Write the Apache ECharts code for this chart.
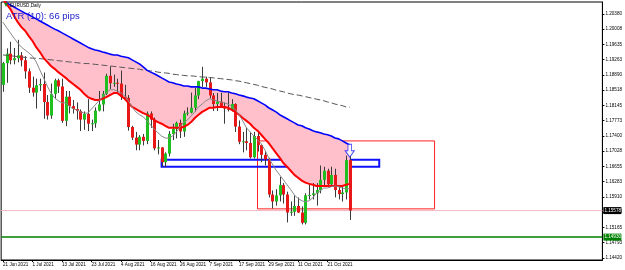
<!DOCTYPE html>
<html><head><meta charset="utf-8">
<script src="https://cdn.jsdelivr.net/npm/echarts@6/dist/echarts.min.js"></script>
<style>html,body{margin:0;padding:0;background:#fff}#c{width:625px;height:270px}</style>
</head><body><div id="c"></div>
<script>
const dates = [
'2021-06-21','2021-06-22','2021-06-23','2021-06-24','2021-06-25','2021-06-28','2021-06-29','2021-06-30',
'2021-07-01','2021-07-02','2021-07-05','2021-07-06','2021-07-07','2021-07-08','2021-07-09','2021-07-12','2021-07-13','2021-07-14','2021-07-15','2021-07-16','2021-07-19','2021-07-20','2021-07-21','2021-07-22','2021-07-23','2021-07-26','2021-07-27','2021-07-28','2021-07-29','2021-07-30',
'2021-08-02','2021-08-03','2021-08-04','2021-08-05','2021-08-06','2021-08-09','2021-08-10','2021-08-11','2021-08-12','2021-08-13','2021-08-16','2021-08-17','2021-08-18','2021-08-19','2021-08-20','2021-08-23','2021-08-24','2021-08-25','2021-08-26','2021-08-27','2021-08-30','2021-08-31',
'2021-09-01','2021-09-02','2021-09-03','2021-09-06','2021-09-07','2021-09-08','2021-09-09','2021-09-10','2021-09-13','2021-09-14','2021-09-15','2021-09-16','2021-09-17','2021-09-20','2021-09-21','2021-09-22','2021-09-23','2021-09-24','2021-09-27','2021-09-28','2021-09-29','2021-09-30',
'2021-10-01','2021-10-04','2021-10-05','2021-10-06','2021-10-07','2021-10-08','2021-10-11','2021-10-12','2021-10-13','2021-10-14','2021-10-15','2021-10-18','2021-10-19','2021-10-20','2021-10-21','2021-10-22','2021-10-25','2021-10-26','2021-10-27','2021-10-28','2021-10-29'];
const futureSlots = 68;

const open = [1.1865,1.1918,1.1941,1.1925,1.1930,1.1937,1.1925,1.1898,
1.1858,1.1846,1.1864,1.1867,1.1823,1.1790,1.1843,1.1876,1.1861,1.1777,1.1836,1.1813,1.1806,1.1801,1.1780,1.1794,1.1770,1.1771,1.1802,1.1817,1.1843,1.1887,
1.1869,1.1870,1.1868,1.1836,1.1833,1.1762,1.1736,1.1719,1.1738,1.1728,1.1795,1.1780,1.1710,1.1712,1.1676,1.1697,1.1745,1.1757,1.1772,1.1751,1.1795,1.1797,
1.1809,1.1839,1.1874,1.1880,1.1871,1.1839,1.1818,1.1824,1.1813,1.1807,1.1804,1.1818,1.1763,1.1726,1.1727,1.1723,1.1688,1.1740,1.1718,1.1694,1.1683,1.1597,
1.1580,1.1595,1.1620,1.1597,1.1553,1.1555,1.1569,1.1553,1.1528,1.1595,1.1596,1.1600,1.1608,1.1633,1.1655,1.1622,1.1645,1.1608,1.1598,1.1602,1.1681];
const high = [1.1921,1.1954,1.1970,1.1955,1.1975,1.1945,1.1935,1.1905,
1.1885,1.1880,1.1880,1.1895,1.1840,1.1868,1.1880,1.1880,1.1880,1.1850,1.1850,1.1828,1.1822,1.1805,1.1800,1.1830,1.1780,1.1810,1.1850,1.1850,1.1892,1.1910,
1.1890,1.1880,1.1900,1.1865,1.1840,1.1765,1.1750,1.1742,1.1745,1.1800,1.1800,1.1785,1.1730,1.1713,1.1700,1.1752,1.1770,1.1775,1.1780,1.1802,1.1810,1.1846,
1.1857,1.1875,1.1909,1.1885,1.1883,1.1845,1.1845,1.1846,1.1822,1.1846,1.1830,1.1820,1.1778,1.1750,1.1760,1.1750,1.1750,1.1750,1.1720,1.1702,1.1687,1.1607,
1.1610,1.1640,1.1625,1.1604,1.1580,1.1595,1.1590,1.1568,1.1600,1.1625,1.1625,1.1625,1.1668,1.1665,1.1660,1.1665,1.1660,1.1620,1.1620,1.1692,1.1692];
const low = [1.1848,1.1870,1.1915,1.1915,1.1920,1.1910,1.1880,1.1845,
1.1836,1.1807,1.1850,1.1782,1.1780,1.1782,1.1830,1.1845,1.1772,1.1764,1.1795,1.1795,1.1780,1.1752,1.1755,1.1752,1.1752,1.1760,1.1800,1.1800,1.1840,1.1855,
1.1860,1.1845,1.1828,1.1830,1.1753,1.1730,1.1705,1.1705,1.1717,1.1720,1.1760,1.1705,1.1695,1.1665,1.1664,1.1690,1.1730,1.1734,1.1735,1.1738,1.1790,1.1795,
1.1800,1.1830,1.1860,1.1860,1.1832,1.1801,1.1801,1.1810,1.1770,1.1800,1.1800,1.1750,1.1720,1.1700,1.1705,1.1685,1.1685,1.1702,1.1676,1.1668,1.1590,1.1563,
1.1570,1.1580,1.1575,1.1529,1.1545,1.1545,1.1552,1.1524,1.1524,1.1585,1.1585,1.1570,1.1600,1.1620,1.1617,1.1620,1.1590,1.1585,1.1580,1.1585,1.1535];
const close = [1.1918,1.1941,1.1925,1.1930,1.1937,1.1925,1.1898,1.1858,
1.1846,1.1864,1.1867,1.1823,1.1790,1.1843,1.1876,1.1861,1.1777,1.1836,1.1813,1.1806,1.1801,1.1780,1.1794,1.1770,1.1771,1.1802,1.1817,1.1843,1.1887,1.1869,
1.1870,1.1868,1.1836,1.1833,1.1762,1.1736,1.1719,1.1738,1.1728,1.1795,1.1780,1.1710,1.1712,1.1676,1.1697,1.1745,1.1757,1.1772,1.1751,1.1795,1.1797,1.1809,
1.1839,1.1874,1.1880,1.1871,1.1839,1.1818,1.1824,1.1813,1.1807,1.1804,1.1818,1.1763,1.1726,1.1727,1.1723,1.1688,1.1740,1.1718,1.1694,1.1683,1.1597,1.1580,
1.1595,1.1620,1.1597,1.1553,1.1555,1.1569,1.1553,1.1528,1.1595,1.1596,1.1600,1.1608,1.1633,1.1655,1.1622,1.1645,1.1608,1.1598,1.1602,1.1681,1.1558];

const maFast = [1.2018,1.2004,1.1992,1.1979,1.1967,1.1957,1.1950,1.1943,1.1935,1.1921,1.1901,1.1882,1.1862,1.1845,1.1833,1.1826,1.1821,1.1821,1.1813,1.1806,
1.1804,1.1799,1.1796,1.1796,1.1806,1.1816,1.1826,1.1835,1.1845,1.1853,1.1853,1.1850,1.1845,1.1838,1.1826,1.1811,1.1799,1.1792,1.1787,1.1777,
1.1767,1.1757,1.1748,1.1740,1.1735,1.1735,1.1740,1.1750,1.1762,1.1774,1.1779,1.1789,1.1799,1.1811,1.1818,1.1826,1.1831,1.1828,1.1826,1.1823,
1.1821,1.1818,1.1813,1.1804,1.1792,1.1777,1.1760,1.1750,1.1740,1.1731,1.1721,1.1706,1.1687,1.1672,1.1657,1.1645,1.1633,1.1621,1.1609,1.1596,
1.1587,1.1582,1.1579,1.1582,1.1589,1.1601,1.1606,1.1613,1.1613,1.1616,1.1618,1.1616,1.1613,1.1611,1.1611];
const maRed = [1.2075,1.2062,1.2050,1.2033,1.2018,1.2006,1.1997,1.1984,1.1972,1.1957,1.1945,1.1931,1.1921,1.1911,1.1904,1.1896,1.1889,1.1882,1.1874,1.1867,
1.1860,1.1853,1.1843,1.1835,1.1831,1.1828,1.1828,1.1831,1.1835,1.1840,1.1845,1.1845,1.1838,1.1831,1.1821,1.1811,1.1806,1.1801,1.1796,1.1792,
1.1787,1.1779,1.1774,1.1770,1.1765,1.1760,1.1760,1.1760,1.1760,1.1762,1.1767,1.1774,1.1784,1.1792,1.1799,1.1804,1.1809,1.1809,1.1811,1.1811,
1.1811,1.1809,1.1804,1.1799,1.1792,1.1784,1.1777,1.1770,1.1760,1.1753,1.1743,1.1733,1.1723,1.1711,1.1699,1.1687,1.1674,1.1665,1.1655,1.1645,
1.1638,1.1631,1.1626,1.1623,1.1621,1.1618,1.1618,1.1618,1.1618,1.1618,1.1618,1.1618,1.1618,1.1621,1.1623];
const maBlue = [1.2079,1.2065,1.2060,1.2055,1.2050,1.2045,1.2040,1.2036,1.2031,1.2026,1.2021,1.2016,1.2011,1.2006,1.2001,1.1997,1.1992,1.1987,1.1982,1.1977,
1.1972,1.1967,1.1962,1.1957,1.1953,1.1950,1.1948,1.1945,1.1943,1.1940,1.1938,1.1938,1.1935,1.1933,1.1931,1.1926,1.1921,1.1916,1.1909,1.1901,
1.1896,1.1892,1.1887,1.1882,1.1877,1.1872,1.1870,1.1867,1.1865,1.1862,1.1862,1.1860,1.1860,1.1860,1.1857,1.1857,1.1855,1.1853,1.1853,1.1850,
1.1848,1.1848,1.1845,1.1843,1.1840,1.1838,1.1835,1.1833,1.1831,1.1826,1.1821,1.1816,1.1809,1.1804,1.1799,1.1792,1.1787,1.1782,1.1777,1.1772,
1.1767,1.1765,1.1760,1.1757,1.1753,1.1750,1.1748,1.1745,1.1743,1.1740,1.1735,1.1733,1.1728,1.1723,1.1718];
const maSlow = [1.1938,1.1937,1.1936,1.1935,1.1934,1.1933,1.1932,1.1931,1.1930,1.1930,1.1929,1.1928,1.1927,1.1926,
1.1925,1.1924,1.1923,1.1922,1.1921,1.1920,1.1919,1.1918,1.1917,1.1917,1.1916,1.1915,1.1914,
1.1913,1.1912,1.1911,1.1910,1.1909,1.1908,1.1907,1.1906,1.1905,1.1904,1.1903,1.1901,
1.1900,1.1899,1.1898,1.1896,1.1895,1.1894,1.1893,1.1891,1.1890,1.1889,
1.1888,1.1887,1.1887,1.1886,1.1885,1.1884,1.1884,1.1883,1.1882,
1.1881,1.1880,1.1879,1.1878,1.1877,1.1875,1.1874,1.1872,1.1870,
1.1868,1.1866,1.1864,1.1861,1.1859,1.1857,1.1855,1.1852,1.1850,1.1848,1.1845,
1.1843,1.1841,1.1840,1.1838,1.1836,1.1834,1.1832,1.1830,1.1828,
1.1826,1.1823,1.1821,1.1818,1.1816,1.1814,1.1811,1.1810];

const xTickLabels = ['21 Jun 2021','1 Jul 2021','13 Jul 2021','23 Jul 2021','4 Aug 2021','16 Aug 2021','26 Aug 2021','7 Sep 2021','17 Sep 2021','29 Sep 2021','11 Oct 2021','21 Oct 2021'];
const xTickStep = 8;
const yTickLabels = [1.20380,1.20008,1.19635,1.19263,1.18890,1.18518,1.18145,1.17773,1.17400,1.17028,1.16655,1.16283,1.15910,1.15538,1.15165,1.14793,1.14420];
const yMin = 1.14371, yMax = 1.20673;
const bidPrice = 1.15578;
const greenLevel = 1.14930;
const redZone = {x0: 69, x1: 117, top: 1.1728, bottom: 1.1562};
const blueZone = {x0: 43, x1: 102, top: 1.1682, bottom: 1.1665};
const arrowPoint = {x: 94, y: 1.1704};
const atrText = 'ATR (10): 66 pips';
const symbolText = 'EURUSD,Daily';

const cats = dates.concat(Array.from({length: futureSlots}, (_, i) => 'f' + (i + 1)));
const ohlc = dates.map((d, i) => [i, open[i], close[i], low[i], high[i]]);
const band = maBlue.map((v, i) => v - maRed[i]);
const levels = [[0, bidPrice, '#f5b8c4', '#000000', 1], [0, greenLevel, '#008000', '#008000', 1.5]];

const bullColor = '#1fbf1f', bearColor = '#e81818', wickColor = '#3a3a3a';
function renderCandle(params, api) {
  const x = api.value(0);
  const o = api.coord([x, api.value(1)]);
  const c = api.coord([x, api.value(2)]);
  const l = api.coord([x, api.value(3)]);
  const h = api.coord([x, api.value(4)]);
  const w = 3;
  const up = api.value(2) >= api.value(1);
  const top = Math.min(o[1], c[1]);
  const hgt = Math.max(Math.abs(o[1] - c[1]), 1);
  const cx = Math.round(o[0]) + 0.5;
  return {type: 'group', children: [
    {type: 'line', shape: {x1: cx, y1: h[1], x2: cx, y2: l[1]}, style: {stroke: wickColor, lineWidth: 1}},
    {type: 'rect', shape: {x: cx - w / 2, y: top, width: w, height: hgt}, style: {fill: up ? bullColor : bearColor, stroke: null}}
  ]};
}
function renderLevel(params, api) {
  const lv = levels[params.dataIndex];
  const cs = params.coordSys;
  const y = api.coord([0, lv[1]])[1];
  return {type: 'group', children: [
    {type: 'line', shape: {x1: cs.x, y1: y, x2: cs.x + cs.width, y2: y}, style: {stroke: lv[2], lineWidth: lv[4]}},
    {type: 'rect', shape: {x: cs.x + cs.width + 1, y: y - 3.5, width: 18, height: 7}, style: {fill: lv[3]}},
    {type: 'text', x: cs.x + cs.width + 2, y: y, style: {text: lv[1].toFixed(5), fill: '#fff', fontSize: 4.6, fontFamily: 'Liberation Sans', verticalAlign: 'middle', align: 'left'}}
  ]};
}

const chart = echarts.init(document.getElementById('c'), null, {renderer: 'canvas'});
const xFont = {fontFamily: 'Liberation Sans', fontSize: 4.6, color: '#000'};
const yFont = {fontFamily: 'Liberation Sans', fontSize: 4.6, color: '#000'};
const xShow = (i) => i % xTickStep === 0 && i / xTickStep < xTickLabels.length;
chart.setOption({
  animation: false,
  backgroundColor: '#fff',
  grid: {left: 1, right: 22, top: 2, bottom: 10, show: true, borderColor: '#000', borderWidth: 1, backgroundColor: 'transparent'},
  xAxis: {
    type: 'category', data: cats, boundaryGap: true,
    axisLine: {show: true, onZero: false, lineStyle: {color: '#000', width: 1}},
    axisTick: {show: true, alignWithLabel: true, length: 2, interval: xShow, lineStyle: {color: '#000'}},
    axisLabel: Object.assign({show: true, interval: xShow, showMinLabel: true, hideOverlap: false,
      formatter: (v, i) => xTickLabels[i / xTickStep] || '', align: 'left', margin: 2, padding: [0, 0, 0, 0]}, xFont),
    splitLine: {show: false}
  },
  yAxis: {
    type: 'value', position: 'right', min: yMin, max: yMax, scale: true,
    axisLine: {show: true, lineStyle: {color: '#000', width: 1}},
    axisTick: {show: true, length: 2, customValues: yTickLabels, lineStyle: {color: '#000'}},
    axisLabel: Object.assign({customValues: yTickLabels, formatter: (v) => v.toFixed(5), margin: 3}, yFont),
    splitLine: {show: false}
  },
  series: [
    {type: 'line', name: 'base', data: maRed, stack: 'band', symbol: 'none', lineStyle: {opacity: 0}, z: 1, silent: true},
    {type: 'line', name: 'band', data: band, stack: 'band', symbol: 'none', lineStyle: {opacity: 0}, areaStyle: {color: '#ffc0cb', opacity: 1}, z: 1, silent: true},
    {type: 'custom', name: 'levels', data: levels.map(l => [l[0], l[1]]), renderItem: renderLevel, clip: false, z: 2, silent: true, encode: {x: 0, y: 1},
      markArea: {silent: true,
        data: [
          [{coord: [redZone.x0, redZone.top], itemStyle: {color: 'rgba(0,0,0,0)', borderColor: '#ff2020', borderWidth: 1}}, {coord: [redZone.x1, redZone.bottom]}],
          [{coord: [blueZone.x0, blueZone.top], itemStyle: {color: 'rgba(0,0,0,0)', borderColor: '#1010ff', borderWidth: 2}}, {coord: [blueZone.x1, blueZone.bottom]}]
        ]}
    },
    {type: 'custom', name: 'EURUSD', data: ohlc, renderItem: renderCandle, z: 3, encode: {x: 0, y: [1, 2, 3, 4]}},
    {type: 'line', name: 'maSlow', data: maSlow, symbol: 'none', lineStyle: {color: '#555', width: 1, type: [6, 3]}, z: 4},
    {type: 'line', name: 'maBlue', data: maBlue, symbol: 'none', lineStyle: {color: '#0000ff', width: 1.6}, z: 5},
    {type: 'line', name: 'maRed', data: maRed, symbol: 'none', lineStyle: {color: '#ff0000', width: 2}, z: 5},
    {type: 'line', name: 'maFast', data: maFast, symbol: 'none', lineStyle: {color: '#888', width: 1}, z: 5},
    {type: 'scatter', name: 'arrow', data: [[arrowPoint.x, arrowPoint.y]], z: 6,
      symbol: 'path://M3,0 L7,0 L7,6 L10,6 L5,12 L0,6 L3,6 Z', symbolSize: [9, 13],
      itemStyle: {color: '#fff', borderColor: '#1a1aff', borderWidth: 1}}
  ],
  graphic: [
    {type: 'polygon', z: 100, shape: {points: [[4, 3], [8, 3], [6, 7]]}, style: {fill: '#1b8a1b'}},
    {type: 'text', z: 100, left: 10, top: 3, style: {text: symbolText, fontSize: 4.6, fontFamily: 'Liberation Sans', fill: '#000'}},
    {type: 'text', z: 100, left: 6, top: 11, style: {text: atrText, fontSize: 9.5, fontFamily: 'Liberation Sans', fill: '#1c1cc8'}}
  ]
});
</script></body></html>
